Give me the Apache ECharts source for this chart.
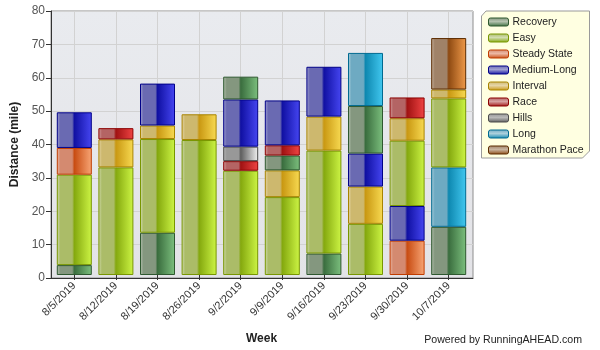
<!DOCTYPE html>
<html>
<head>
<meta charset="utf-8">
<script src="https://cdn.jsdelivr.net/npm/echarts@6/dist/echarts.min.js"></script>
<style>
  html, body { margin: 0; padding: 0; background: #ffffff; }
  #chart { width: 600px; height: 350px; }
</style>
</head>
<body>
<div id="chart"></div>
<script>
// Weekly mileage by workout type, RunningAHEAD style
const weeks = ['8/5/2019', '8/12/2019', '8/19/2019', '8/26/2019', '9/2/2019',
               '9/9/2019', '9/16/2019', '9/23/2019', '9/30/2019', '10/7/2019'];

const workoutTypes = ['Recovery', 'Easy', 'Steady State', 'Medium-Long', 'Interval',
                      'Race', 'Hills', 'Long', 'Marathon Pace'];

// Segments of each week, listed bottom to top: [type, miles]
const week0805 = [['Recovery', 3.0], ['Easy', 27.4], ['Steady State', 8.1], ['Medium-Long', 10.8]];
const week0812 = [['Easy', 32.6], ['Interval', 8.5], ['Race', 3.4]];
const week0819 = [['Recovery', 12.8], ['Easy', 28.4], ['Interval', 4.1], ['Medium-Long', 12.7]];
const week0826 = [['Easy', 40.9], ['Interval', 7.8]];
const week0902 = [['Easy', 31.6], ['Race', 2.9], ['Hills', 4.4], ['Medium-Long', 14.3], ['Recovery', 6.9]];
const week0909 = [['Easy', 23.6], ['Interval', 8.1], ['Recovery', 4.5], ['Race', 3.1], ['Medium-Long', 13.6]];
const week0916 = [['Recovery', 6.5], ['Easy', 31.2], ['Interval', 10.3], ['Medium-Long', 15.1]];
const week0923 = [['Easy', 15.5], ['Interval', 11.3], ['Medium-Long', 10.0], ['Recovery', 14.4], ['Long', 16.1]];
const week0930 = [['Steady State', 10.4], ['Medium-Long', 10.5], ['Easy', 19.8], ['Interval', 6.8], ['Race', 6.3]];
const week1007 = [['Recovery', 14.6], ['Long', 18.0], ['Easy', 20.9], ['Interval', 2.7], ['Marathon Pace', 15.6]];

const weekSegments = [week0805, week0812, week0819, week0826, week0902,
                      week0909, week0916, week0923, week0930, week1007];

const yTicks = [0, 10, 20, 30, 40, 50, 60, 70, 80];

// Glossy cylinder-like fills per workout type
const palette = {
  'Recovery':      { edge: '#b4c2ae', muted: '#84977f', dark: '#3a6d3e', bright: '#7cc07e', line: '#2e582f' },
  'Easy':          { edge: '#d2dcb0', muted: '#abbc68', dark: '#84a80e', bright: '#cdf545', line: '#789600' },
  'Steady State':  { edge: '#ecb8a4', muted: '#d48a70', dark: '#c84c12', bright: '#f8a676', line: '#c03c00' },
  'Medium-Long':   { edge: '#a0a0d2', muted: '#6a6ab2', dark: '#1010a2', bright: '#4646f2', line: '#000088' },
  'Interval':      { edge: '#e6d6a8', muted: '#cdb86e', dark: '#c99812', bright: '#f8da52', line: '#a88400' },
  'Race':          { edge: '#d6a0a0', muted: '#b46464', dark: '#a01212', bright: '#f04444', line: '#8c0000' },
  'Hills':         { edge: '#b8b8b8', muted: '#989898', dark: '#5e5e5e', bright: '#f2f2f2', line: '#4a4a4a' },
  'Long':          { edge: '#acd0dc', muted: '#6eaac2', dark: '#0e88b0', bright: '#42c8f0', line: '#006a90' },
  'Marathon Pace': { edge: '#c8b4a0', muted: '#a08268', dark: '#8e4a12', bright: '#f09a4a', line: '#5c2c00' }
};

function barFill(c) {
  return new echarts.graphic.LinearGradient(0, 0, 1, 0, [
    { offset: 0, color: c.edge },
    { offset: 0.1, color: c.muted },
    { offset: 0.44, color: c.muted },
    { offset: 0.5, color: c.dark },
    { offset: 1, color: c.bright }
  ]);
}

// Legend swatches: small horizontal pill with a soft highlight band
function swatchFill(c) {
  return new echarts.graphic.LinearGradient(0, 0, 0, 1, [
    { offset: 0, color: c.muted },
    { offset: 0.45, color: c.edge },
    { offset: 1, color: c.dark }
  ]);
}

const FONT = '"Liberation Sans", Arial, sans-serif';
const maxLayers = Math.max(...weekSegments.map(s => s.length));

// Stack layers: layer k holds the k-th segment (from the bottom) of each week
const layerSeries = [];
for (let k = 0; k < maxLayers; k++) {
  layerSeries.push({
    name: 'layer' + k,
    type: 'bar',
    stack: 'miles',
    xAxisIndex: 1,
    yAxisIndex: 1,
    barWidth: 35,
    data: weekSegments.map(segs => {
      const seg = segs[k];
      if (!seg) return '-';
      const c = palette[seg[0]];
      return {
        value: seg[1],
        name: seg[0],
        itemStyle: { color: barFill(c), borderColor: c.line, borderWidth: 1 }
      };
    })
  });
}

// Empty series that only carry the legend entries
const legendSeries = workoutTypes.map(t => ({
  name: t,
  type: 'bar',
  stack: 'miles',
  xAxisIndex: 1,
  yAxisIndex: 1,
  barWidth: 35,
  data: [],
  itemStyle: { color: barFill(palette[t]), borderColor: palette[t].line, borderWidth: 1 }
}));

const chart = echarts.init(document.getElementById('chart'), null, { renderer: 'canvas' });

chart.setOption({
  animation: false,
  textStyle: { fontFamily: FONT },
  grid: [
    {
      // plot frame
      left: 51, right: 127, top: 11, bottom: 72,
      show: true,
      backgroundColor: new echarts.graphic.LinearGradient(0, 0, 0, 1, [
        { offset: 0, color: '#e9ebef' },
        { offset: 1, color: '#e3e3e7' }
      ]),
      borderColor: '#8e8e8e',
      borderWidth: 1
    },
    {
      // category band
      left: 53.5, right: 130.5, top: 11, bottom: 72
    }
  ],
  xAxis: [
    {
      gridIndex: 0, type: 'value', min: 0, max: 1,
      axisLine: { show: true, lineStyle: { color: '#333', width: 1 } },
      axisTick: { show: false }, axisLabel: { show: false }, splitLine: { show: false }
    },
    {
      gridIndex: 1, type: 'category', data: weeks,
      name: 'Week', nameLocation: 'middle', nameGap: 58,
      nameTextStyle: { fontFamily: FONT, fontSize: 12, fontWeight: 'bold', color: '#222' },
      axisLine: { show: false },
      axisTick: { show: true, alignWithLabel: true, length: 5, lineStyle: { color: '#333' } },
      axisLabel: { rotate: 45, fontSize: 11, color: '#333', margin: 9, interval: 0, fontFamily: FONT },
      splitLine: { show: true, alignWithLabel: true, lineStyle: { color: '#d2d2d2', width: 1 } }
    }
  ],
  yAxis: [
    {
      gridIndex: 0, type: 'value', min: yTicks[0], max: yTicks[yTicks.length - 1], interval: 10,
      name: 'Distance (mile)', nameLocation: 'middle', nameGap: 27,
      nameTextStyle: { fontFamily: FONT, fontSize: 12, fontWeight: 'bold', color: '#222' },
      axisLine: { show: true, lineStyle: { color: '#333', width: 1 } },
      axisTick: { show: true, length: 5, lineStyle: { color: '#333' } },
      axisLabel: { fontSize: 12, color: '#555', margin: 6, fontFamily: FONT },
      splitLine: { show: true, lineStyle: { color: '#d2d2d2', width: 1 } }
    },
    {
      gridIndex: 1, type: 'value', min: yTicks[0], max: yTicks[yTicks.length - 1], interval: 10,
      show: false, splitLine: { show: false }
    }
  ],
  legend: {
    data: workoutTypes.map(t => ({
      name: t,
      itemStyle: { color: swatchFill(palette[t]), borderColor: palette[t].line, borderWidth: 1 }
    })),
    orient: 'vertical',
    left: 488, top: 16,
    padding: 0,
    itemWidth: 20, itemHeight: 8, itemGap: 4,
    icon: 'roundRect',
    textStyle: { fontFamily: FONT, fontSize: 10.5, color: '#222', lineHeight: 12, padding: [0, 0, 0, -1] },
    selectedMode: false
  },
  graphic: [
    {
      type: 'polygon', z: -10, silent: true,
      shape: { points: [[486, 11], [589.5, 11], [589.5, 151], [582.5, 158], [481.5, 158], [481.5, 16]] },
      style: { fill: '#ffffe1', stroke: '#9a9a9a', lineWidth: 1 }
    },
    {
      type: 'text', right: 18, top: 335, silent: true,
      style: { text: 'Powered by RunningAHEAD.com', fontFamily: FONT, fontSize: 10.6, fill: '#222' }
    }
  ],
  series: layerSeries.concat(legendSeries)
});
</script>
</body>
</html>
